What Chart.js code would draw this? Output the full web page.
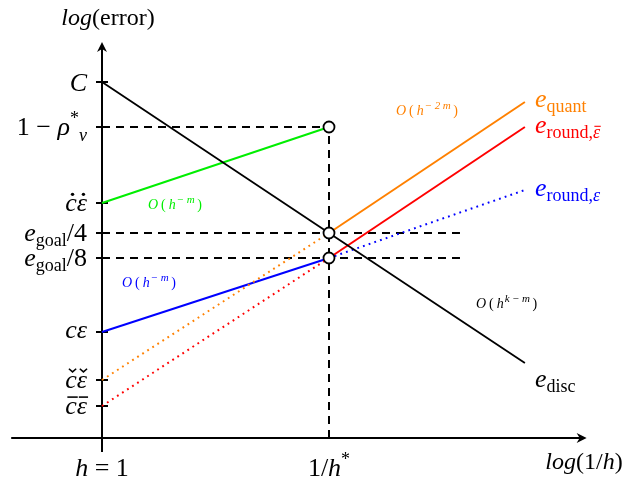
<!DOCTYPE html>
<html>
<head>
<meta charset="utf-8">
<script src="https://cdn.jsdelivr.net/npm/chart.js@4.4.1/dist/chart.umd.min.js"></script>
<style>
  html, body { margin: 0; padding: 0; background: #fff; }
  #wrap { width: 632px; height: 487px; }
</style>
</head>
<body>
<div id="wrap"><canvas id="errorChart" width="632" height="487"></canvas></div>
<script>
// x: 0 = (h = 1), 1 = 1/h*, 1.863 = right end of the curves
const xKnots = [0, 1, 1.863];
const discVals = [3.56, 2.05, 0.75];
const quantVals = [0.58, 2.05, 3.36];
const roundBarVals = [0.32, 1.80, 3.11];
const roundVals = [1.06, 1.80, 2.48];
const preVals = [2.35, 3.11];
const guideY = [3.11, 2.05, 1.80];
const guideEnd = [1, 1.577, 1.577];
const circleY = [3.11, 2.05, 1.80];
const yTickVals = [3.56, 3.11, 2.35, 2.05, 1.80, 1.06, 0.58, 0.32];
const xTickVals = [0, 1];

const SERIF = '"Liberation Serif", "DejaVu Serif", serif';
const ORANGE = '#ff8000';
const GREEN = '#00ee00';

function pts(xs, ys) {
    return ys.map((y, i) => ({ x: xs[i], y: y }));
}

function setFont(ctx, p) {
    ctx.font = (p.it ? 'italic ' : '') + p.s + 'px ' + SERIF;
    ctx.letterSpacing = p.ls || '0px';
}

// accent over a single glyph
function drawAccent(ctx, kind, cx, base, w, s, col) {
    const mx = cx + w / 2 + s * 0.06;
    const top = base - s * 0.58;
    ctx.save();
    ctx.strokeStyle = col;
    ctx.fillStyle = col;
    ctx.lineWidth = Math.max(1, s * 0.06);
    if (kind === 'dot') {
        ctx.beginPath();
        ctx.arc(mx, top - s * 0.06, s * 0.065, 0, Math.PI * 2);
        ctx.fill();
    } else if (kind === 'check') {
        ctx.beginPath();
        ctx.moveTo(mx - s * 0.14, top - s * 0.16);
        ctx.lineTo(mx, top - s * 0.04);
        ctx.lineTo(mx + s * 0.14, top - s * 0.16);
        ctx.stroke();
    } else if (kind === 'bar') {
        ctx.beginPath();
        ctx.moveTo(mx - w * 0.45, top - s * 0.07);
        ctx.lineTo(mx + w * 0.45, top - s * 0.07);
        ctx.stroke();
    }
    ctx.restore();
}

// draws a list of text pieces: {t, s, it, dy, col, ls, acc}
function drawRich(ctx, parts, x, y, align, color) {
    let width = 0;
    parts.forEach(p => {
        setFont(ctx, p);
        width += ctx.measureText(p.t).width;
    });
    let cx = align === 'right' ? x - width : align === 'center' ? x - width / 2 : x;
    ctx.textAlign = 'left';
    ctx.textBaseline = 'alphabetic';
    parts.forEach(p => {
        setFont(ctx, p);
        const col = p.col || color || '#000';
        ctx.fillStyle = col;
        ctx.fillText(p.t, cx, y + (p.dy || 0));
        const w = ctx.measureText(p.t).width;
        if (p.acc) drawAccent(ctx, p.acc, cx, y + (p.dy || 0), w, p.s, col);
        cx += w;
    });
    ctx.letterSpacing = '0px';
}

function arrowHead(ctx, x, y, dir) {
    ctx.save();
    ctx.translate(x, y);
    ctx.rotate(dir);
    ctx.beginPath();
    ctx.moveTo(0, 0);
    ctx.lineTo(-10, -5);
    ctx.lineTo(-7, 0);
    ctx.lineTo(-10, 5);
    ctx.closePath();
    ctx.fillStyle = '#000';
    ctx.fill();
    ctx.restore();
}

const diagram = {
    id: 'diagram',
    beforeDatasetsDraw(chart) {
        const ctx = chart.ctx;
        const xs = chart.scales.x, ys = chart.scales.y;
        const x0 = xs.getPixelForValue(0), y0 = ys.getPixelForValue(0);
        ctx.save();
        ctx.strokeStyle = '#000';
        ctx.lineWidth = 2;
        ctx.setLineDash([]);
        // x axis
        ctx.beginPath();
        ctx.moveTo(xs.getPixelForValue(-0.40), y0);
        ctx.lineTo(xs.getPixelForValue(2.135) - 6, y0);
        ctx.stroke();
        arrowHead(ctx, xs.getPixelForValue(2.135), y0, 0);
        // y axis
        ctx.beginPath();
        ctx.moveTo(x0, ys.getPixelForValue(-0.14));
        ctx.lineTo(x0, ys.getPixelForValue(3.96) + 6);
        ctx.stroke();
        arrowHead(ctx, x0, ys.getPixelForValue(3.96), -Math.PI / 2);
        // ticks
        yTickVals.forEach(v => {
            const py = ys.getPixelForValue(v);
            ctx.beginPath();
            ctx.moveTo(x0 - 6, py);
            ctx.lineTo(x0 + 6, py);
            ctx.stroke();
        });
        ctx.restore();
    },
    afterDatasetsDraw(chart) {
        const ctx = chart.ctx;
        const xs = chart.scales.x, ys = chart.scales.y;
        const px = v => xs.getPixelForValue(v);
        const py = v => ys.getPixelForValue(v);
        const lx = px(0) - 15;
        const B = 26, S = 18;
        ctx.save();
        // y axis title
        drawRich(ctx, [{ t: 'log', s: 24, it: true }, { t: '(error)', s: 24 }], px(0) + 6, 25, 'center');
        // y tick labels
        drawRich(ctx, [{ t: 'C', s: B, it: true }], lx, py(yTickVals[0]) + 9, 'right');
        drawRich(ctx, [{ t: '1 \u2212 ', s: B }, { t: '\u03c1', s: B, it: true },
            { t: '*', s: S, dy: -11 }, { t: 'v', s: S, it: true, dy: 6 }], lx, py(yTickVals[1]) + 8, 'right');
        drawRich(ctx, [{ t: 'c', s: B, it: true, acc: 'dot' }, { t: '\u03b5', s: B, it: true, acc: 'dot' }], lx, py(yTickVals[2]) + 8, 'right');
        drawRich(ctx, [{ t: 'e', s: B, it: true }, { t: 'goal', s: S, dy: 5 }, { t: '/4', s: B }], lx, py(yTickVals[3]) + 8, 'right');
        drawRich(ctx, [{ t: 'e', s: B, it: true }, { t: 'goal', s: S, dy: 5 }, { t: '/8', s: B }], lx, py(yTickVals[4]) + 8, 'right');
        drawRich(ctx, [{ t: 'c\u03b5', s: B, it: true }], lx, py(yTickVals[5]) + 6, 'right');
        drawRich(ctx, [{ t: 'c', s: B, it: true, acc: 'check' }, { t: '\u03b5', s: B, it: true, acc: 'check' }], lx, py(yTickVals[6]) + 8, 'right');
        drawRich(ctx, [{ t: 'c', s: B, it: true, acc: 'bar' }, { t: '\u03b5', s: B, it: true, acc: 'bar' }], lx, py(yTickVals[7]) + 8, 'right');
        // x tick labels
        drawRich(ctx, [{ t: 'h', s: B, it: true }, { t: ' = 1', s: B }], px(xTickVals[0]), 476, 'center');
        drawRich(ctx, [{ t: '1/', s: B }, { t: 'h', s: B, it: true }, { t: '*', s: S, dy: -11 }], px(xTickVals[1]), 476, 'center');
        drawRich(ctx, [{ t: 'log', s: 24, it: true }, { t: '(1/', s: 24 }, { t: 'h', s: 24, it: true }, { t: ')', s: 24 }], 584, 469, 'center');
        // curve names
        const nx = px(xKnots[2]) + 10;
        drawRich(ctx, [{ t: 'e', s: B, it: true }, { t: 'quant', s: S, dy: 5 }], nx, py(quantVals[2]) + 5, 'left', ORANGE);
        drawRich(ctx, [{ t: 'e', s: B, it: true }, { t: 'round,', s: S, dy: 5 }, { t: '\u03b5', s: S, it: true, dy: 5, acc: 'bar' }], nx, py(roundBarVals[2]) + 6, 'left', '#ff0000');
        drawRich(ctx, [{ t: 'e', s: B, it: true }, { t: 'round,', s: S, dy: 5 }, { t: '\u03b5', s: S, it: true, dy: 5 }], nx, py(roundVals[2]) + 6, 'left', '#0000ff');
        drawRich(ctx, [{ t: 'e', s: B, it: true }, { t: 'disc', s: S, dy: 5 }], nx, py(discVals[2]) + 24, 'left', '#000');
        // rate annotations
        const small = (col, exp) => [{ t: 'O', s: 14, it: true, col: col, ls: '3px' },
            { t: '(', s: 14, col: col, ls: '3px' }, { t: 'h', s: 14, it: true, col: col, ls: '1px' },
            { t: exp, s: 11, it: true, dy: -6, col: col, ls: '2.5px' }, { t: ')', s: 14, col: col }];
        drawRich(ctx, small(ORANGE, '\u22122m'), 396, 115, 'left');
        drawRich(ctx, small(GREEN, '\u2212m'), 148, 209, 'left');
        drawRich(ctx, small('#0000ff', '\u2212m'), 122, 287, 'left');
        drawRich(ctx, small('#000', 'k\u2212m'), 476, 308, 'left');
        ctx.restore();
    }
};

const dotted = [1.8, 4.2];
const dashed = [8, 6];

const datasets = [
    // open circles on top
    {
        data: pts([1, 1, 1], circleY), showLine: false, order: 0,
        pointRadius: 5.5, pointBackgroundColor: '#fff', pointBorderColor: '#000', pointBorderWidth: 1.8
    },
    {
        data: pts(xKnots, discVals), borderColor: '#000', borderWidth: 1.8, order: 2
    },
    {
        data: pts(xKnots, quantVals), borderColor: ORANGE, borderWidth: 2, order: 2,
        segment: { borderDash: c => c.p0DataIndex === 0 ? dotted : undefined }
    },
    {
        data: pts(xKnots, roundBarVals), borderColor: '#ff0000', borderWidth: 2, order: 2,
        segment: { borderDash: c => c.p0DataIndex === 0 ? dotted : undefined }
    },
    {
        data: pts(xKnots, roundVals), borderColor: '#0000ff', borderWidth: 2, order: 2,
        segment: { borderDash: c => c.p0DataIndex === 1 ? dotted : undefined }
    },
    {
        data: pts(xKnots, preVals), borderColor: GREEN, borderWidth: 2, order: 2
    },
    // dashed guides
    { data: [{ x: 1, y: 0 }, { x: 1, y: guideY[0] }], borderColor: '#000', borderWidth: 2, borderDash: dashed, order: 3 }
];
guideY.forEach((g, i) => {
    datasets.push({
        data: [{ x: 0, y: g }, { x: guideEnd[i], y: g }],
        borderColor: '#000', borderWidth: 2, borderDash: dashed, order: 3
    });
});
datasets.forEach(d => {
    d.showLine = d.showLine !== false;
    if (d.pointRadius === undefined) d.pointRadius = 0;
    d.fill = false;
    d.tension = 0;
});

new Chart(document.getElementById('errorChart').getContext('2d'), {
    type: 'scatter',
    data: { datasets: datasets },
    options: {
        responsive: false,
        animation: false,
        layout: { padding: 0, autoPadding: false },
        plugins: { legend: { display: false }, tooltip: { enabled: false } },
        scales: {
            x: { type: 'linear', display: false, min: -102 / 227, max: 530 / 227 },
            y: { type: 'linear', display: false, min: -0.49, max: 4.38 }
        }
    },
    plugins: [diagram]
});
</script>
</body>
</html>
